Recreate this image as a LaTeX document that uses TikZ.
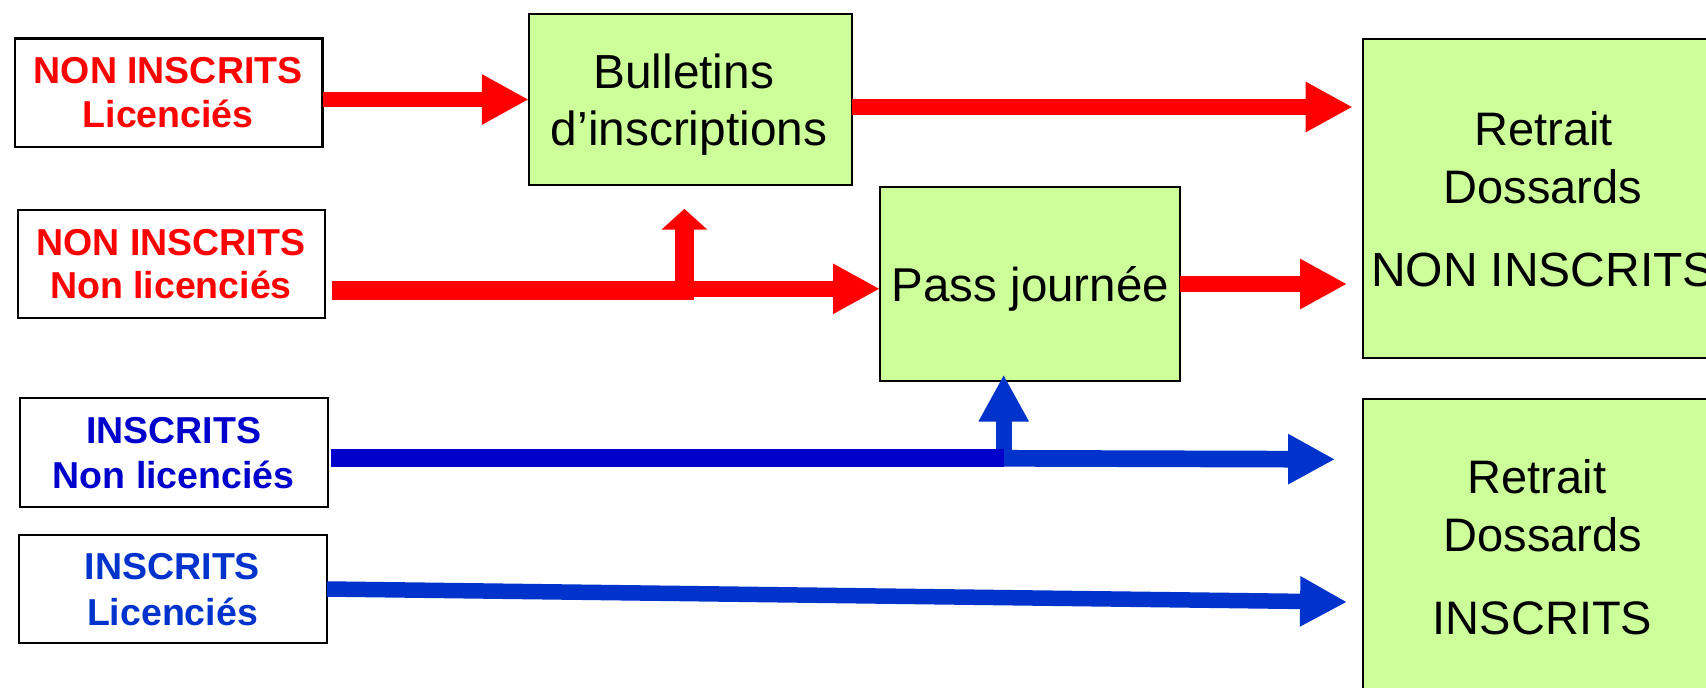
\documentclass[tikz,border=0pt]{standalone}
\usepackage{fontspec}
\setmainfont{Liberation Sans}
\usetikzlibrary{arrows.meta,calc}
\definecolor{nred}{RGB}{255,0,0}
\definecolor{dblue}{RGB}{0,0,204}
\definecolor{lblue}{RGB}{0,51,204}
\definecolor{lgreen}{RGB}{204,255,153}
\begin{document}
\begin{tikzpicture}[x=1pt,y=-1pt,
  wbox/.style={draw=black, line width=2.2pt, fill=white, inner sep=0pt, outer sep=0pt, minimum width=307.7pt, minimum height=108.5pt},
  gbox/.style={draw=black, line width=2.2pt, fill=lgreen, inner sep=0pt, outer sep=0pt},
  small/.style={font=\fontsize{37.5pt}{44pt}\selectfont\bfseries, anchor=base, inner sep=0pt},
  big/.style={font=\fontsize{#1}{57pt}\selectfont, anchor=base, inner sep=0pt},
  blockarrow/.style={-{Triangle[length=47pt,width=47pt]}}
]
\useasboundingbox (0,0) rectangle (1706,688);
\clip (0,0) rectangle (1706,688);
\fill[white] (0,0) rectangle (1706,688);

% left boxes
\node[wbox] (a) at (168.65,92.65) {};
\node[small, text=nred] (a1) at (168.15,83.3) {NON INSCRITS};
\node[small, text=nred] (a2) at (168.15,127.7) {Licenciés};

\node[wbox] (b) at (171.45,264) {};
\node[small, text=nred] (b1) at (170.9,255) {NON INSCRITS};
\node[small, text=nred] (b2) at (170.9,298.3) {Non licenciés};

\node[wbox] (c) at (174.1,452.35) {};
\node[small, text=dblue] (c1) at (173.6,443) {INSCRITS};
\node[small, text=dblue] (c2) at (173.6,488) {Non licenciés};

\node[wbox] (d) at (173,589) {};
\node[small, text=lblue] (d1) at (172.5,579.7) {INSCRITS};
\node[small, text=lblue] (d2) at (172.5,625) {Licenciés};

% green boxes
\node[gbox, minimum width=323pt, minimum height=171pt] (bul) at (690.35,99.35) {};
\node[big=47.8pt] (bul1) at (683.7,88.3) {Bulletins};
\node[big=47.8pt] (bul2) at (689,145.7) {d’inscriptions};

\node[gbox, minimum width=300pt, minimum height=194.4pt] (pass) at (1030,284) {};
\node[big=47.5pt] (pass1) at (1030.5,301.7) {Pass journée};

\node[gbox, minimum width=360.6pt, minimum height=319pt] (r1) at (1543,198.35) {};
\node[big=47pt] (r1a) at (1543.5,145.7) {Retrait};
\node[big=47pt] (r1b) at (1543,203.3) {Dossards};
\node[big=48pt] (r1c) at (1543,286.7) {NON INSCRITS};

\node[gbox, minimum width=360.6pt, minimum height=319pt] (r2) at (1543,558.35) {};
\node[big=47pt] (r2a) at (1537,493) {Retrait};
\node[big=47pt] (r2b) at (1543,551.3) {Dossards};
\node[big=47pt] (r2c) at (1542.5,634) {INSCRITS};

% red arrows
\draw[nred, line width=15.6pt, blockarrow] (a.east |- 0,99.5) -- (bul.west |- 0,99.5);
\draw[nred, line width=16pt, blockarrow] (bul.east |- 0,107) -- ($(r1.west |- 0,107)+(-10,0)$);
\draw[nred, line width=16pt, blockarrow] (pass.east |- 0,284) -- ($(r1.west |- 0,284)+(-15.6,0)$);

\coordinate (bj) at (684.4,290.5);
\draw[nred, line width=15.7pt, blockarrow] (bj |- 0,288.8) -- (pass.west |- 0,288.8);
\draw[nred, line width=19.3pt, -{Triangle[length=20.7pt,width=44.5pt]}] (bj |- 0,300) -- ($(bul.south -| bj)+(0,24)$);
\draw[nred, line width=19pt] ($(b.east |- 0,290.5)+(6.6,0)$) -- ($(bj)+(9.65,0)$);

% blue arrows
\coordinate (cj) at (1003.7,457.8);
\draw[lblue, line width=16pt, blockarrow] (cj) -- ($(pass.south -| cj)+(0,-6.6)$);
\draw[lblue, line width=16.7pt, blockarrow] (cj |- 0,458.3) -- ($(r2.west |- 0,459.3)+(-27.6,0)$);
\draw[dblue, line width=17.7pt] ($(c.east |- 0,457.8)+(3.4,0)$) -- (cj);

\draw[lblue, line width=15.5pt, blockarrow] (d.east |- 0,589) -- ($(r2.west |- 0,602)+(-15.6,0)$);
\end{tikzpicture}
\end{document}
